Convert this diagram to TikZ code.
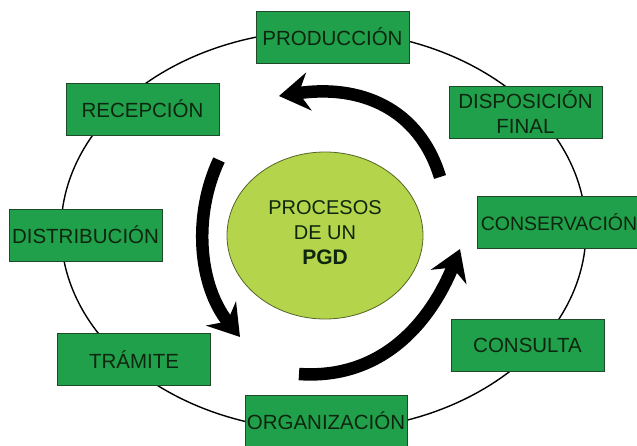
\documentclass[tikz,border=0pt]{standalone}
\usepackage{fontspec}
\setmainfont{Liberation Sans}
\usetikzlibrary{arrows.meta,shapes.geometric}
\definecolor{boxgreen}{HTML}{21A04B}
\definecolor{boxedge}{HTML}{1E4A2A}
\definecolor{txt}{HTML}{0E260F}
\definecolor{lime}{HTML}{B3D44B}
\definecolor{limeedge}{HTML}{55662A}
\begin{document}
\begin{tikzpicture}[x=1pt,y=-1pt,
  stagebox/.style={rectangle,fill=boxgreen,draw=boxedge,line width=0.8pt,
    minimum width=153pt,minimum height=52pt,inner sep=0pt,text=txt,
    font=\fontsize{20.5}{24.5}\selectfont,align=center},
  flow/.style={line width=12.5pt,-{Stealth[length=30pt,width=38pt,inset=10pt]}}]
\useasboundingbox (0,0) rectangle (637,446);
\fill[white] (0,0) rectangle (637,446);
% outer ring
\draw[line width=1.4pt] (323.5,230.5) ellipse [x radius=262.5, y radius=200];
% centre
\node[ellipse,fill=lime,draw=limeedge,line width=0.8pt,minimum width=196pt,minimum height=167pt] (core) at (325,235.5) {};
\node[text=txt,align=center,font=\fontsize{20}{25}\selectfont] (coretext) at (325,233) {PROCESOS\\DE UN\\{\fontsize{21}{25}\selectfont\textbf{PGD}}};
% stages
\node[stagebox] (prod) at (332.5,37) {PRODUCCIÓN};
\node[stagebox] (recep) at (142.5,109) {RECEPCIÓN};
\node[stagebox] (disp) at (525.5,112) {DISPOSICIÓN\\FINAL};
\node[stagebox,minimum width=164pt,font=\fontsize{19.5}{24}\selectfont] (cons) at (559,222.5) {CONSERVACIÓN};
\node[stagebox] (dist) at (85.5,235) {DISTRIBUCIÓN};
\node[stagebox] (tram) at (134,359.5) {TRÁMITE};
\node[stagebox] (consul) at (527.5,345.5) {CONSULTA};
\node[stagebox,minimum width=162pt] (org) at (326,421) {ORGANIZACIÓN};
% flow arrows
\coordinate (a1s) at (440,177);
\coordinate (a1e) at (279,96);
\coordinate (a2s) at (219,160);
\coordinate (a2e) at (240,337);
\coordinate (a3s) at (299,374);
\coordinate (a3e) at (460,249);
\draw[flow] (a1s) .. controls (419,108) and (360,84) .. (a1e);
\draw[flow] (a2s) .. controls (193,215) and (198,285) .. (a2e);
\draw[flow] (a3s) .. controls (385,380) and (432,318) .. (a3e);
\end{tikzpicture}
\end{document}
